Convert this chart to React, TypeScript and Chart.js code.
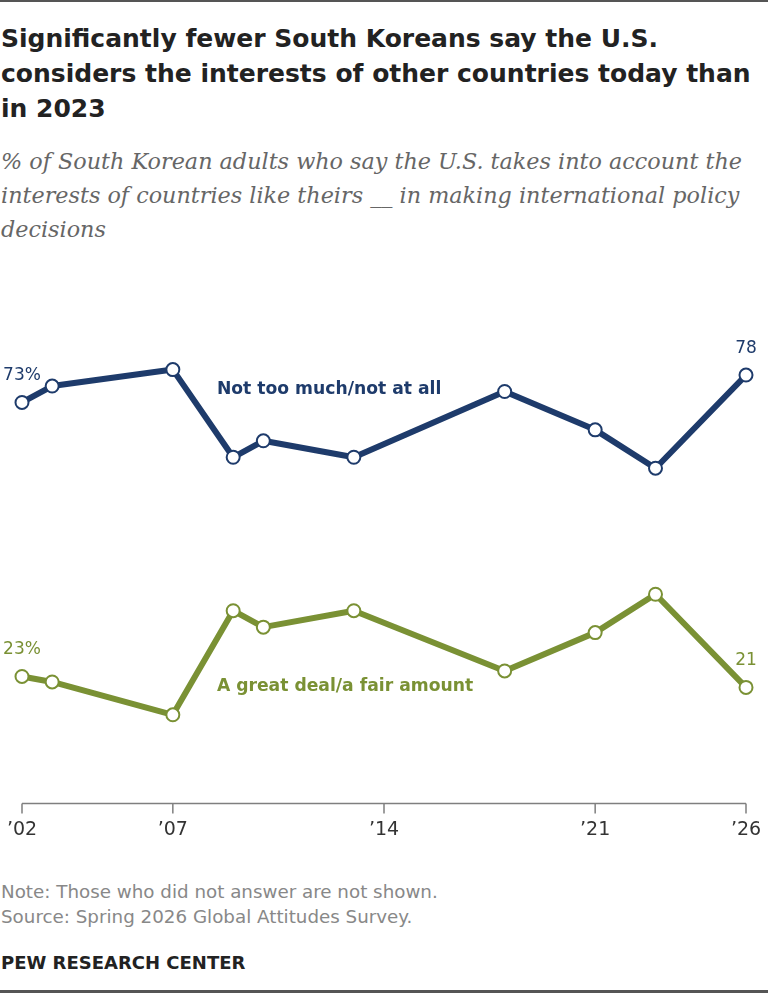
import React, { useEffect, useRef } from "react";
import { Chart, registerables } from "chart.js";

Chart.register(...registerables);

// ---- Data ----
const years = [2002, 2003, 2007, 2009, 2010, 2013, 2018, 2021, 2023, 2026];
const notTooMuch = [73, 76, 79, 63, 66, 63, 75, 68, 61, 78];
const greatDeal = [23, 22, 16, 35, 32, 35, 24, 31, 38, 21];
const tickYears = [2002, 2007, 2014, 2021, 2026];
const tickLabels = ["\u201902", "\u201907", "\u201914", "\u201921", "\u201926"];
const seriesNames = ["Not too much/not at all", "A great deal/a fair amount"];

const NAVY = "#1e3b6b";
const OLIVE = "#7a9134";
const SANS = "'DejaVu Sans', 'Liberation Sans', sans-serif";

const labelPlugin = {
  id: "pewLabels",
  afterDatasetsDraw(chart: any) {
    const { ctx, scales } = chart;
    const x = scales.x;
    const y = scales.y;
    ctx.save();
    // x axis line with downward ticks
    const y0 = Math.round(y.getPixelForValue(0)) + 0.5;
    ctx.strokeStyle = "#7f7f7f";
    ctx.lineWidth = 1.5;
    ctx.beginPath();
    ctx.moveTo(x.getPixelForValue(x.min), y0);
    ctx.lineTo(x.getPixelForValue(x.max), y0);
    tickYears.forEach((t) => {
      const px = x.getPixelForValue(t);
      ctx.moveTo(px, y0);
      ctx.lineTo(px, y0 + 10);
    });
    ctx.stroke();

    // tick labels
    ctx.fillStyle = "#333333";
    ctx.font = `19px ${SANS}`;
    ctx.textAlign = "center";
    ctx.textBaseline = "alphabetic";
    tickYears.forEach((t, i) => {
      ctx.fillText(tickLabels[i], x.getPixelForValue(t), y0 + 31);
    });

    // end value labels
    const series = [notTooMuch, greatDeal];
    const colors = [NAVY, OLIVE];
    ctx.font = `17px ${SANS}`;
    ctx.textAlign = "center";
    series.forEach((vals, si) => {
      ctx.fillStyle = colors[si];
      const first = 0;
      const last = vals.length - 1;
      ctx.fillText(
        `${vals[first]}%`,
        x.getPixelForValue(years[first]),
        y.getPixelForValue(vals[first]) - 22
      );
      ctx.fillText(
        `${vals[last]}`,
        x.getPixelForValue(years[last]),
        y.getPixelForValue(vals[last]) - 22
      );
    });

    // series names
    ctx.font = `bold 17.2px ${SANS}`;
    ctx.textAlign = "left";
    const nameAnchors = [
      { year: 2008.46, value: 74.6 },
      { year: 2008.46, value: 20.3 },
    ];
    nameAnchors.forEach((a, i) => {
      ctx.fillStyle = colors[i];
      ctx.fillText(seriesNames[i], x.getPixelForValue(a.year), y.getPixelForValue(a.value));
    });
    ctx.restore();
  },
};

function ChartBox() {
  const ref = useRef<HTMLCanvasElement | null>(null);
  useEffect(() => {
    if (!ref.current) return;
    const mk = (vals: number[], color: string) => ({
      data: years.map((yr, i) => ({ x: yr, y: vals[i] })),
      borderColor: color,
      borderWidth: 6,
      borderJoinStyle: "round",
      borderCapStyle: "round",
      pointRadius: 6.5,
      pointHoverRadius: 6.5,
      pointBorderWidth: 2,
      pointBackgroundColor: "#ffffff",
      pointBorderColor: color,
      tension: 0,
      clip: false,
    });
    const chart = new Chart(ref.current, {
      type: "line",
      data: {
        datasets: [mk(notTooMuch, NAVY), mk(greatDeal, OLIVE)] as any,
      },
      options: {
        animation: false,
        responsive: true,
        maintainAspectRatio: false,
        layout: { padding: { left: 22, right: 22, top: 24.5, bottom: 57.5 } },
        plugins: { legend: { display: false }, tooltip: { enabled: false } },
        events: [],
        scales: {
          x: { type: "linear", display: false, min: 2002, max: 2026 },
          y: { display: false, min: 0, max: 100 },
        },
      } as any,
      plugins: [labelPlugin],
    });
    return () => chart.destroy();
  }, []);
  return (
    <div style={{ position: "absolute", left: 0, top: 230, width: 768, height: 630 }}>
      <canvas ref={ref} />
    </div>
  );
}

export default function App() {
  return (
    <div
      style={{
        position: "relative",
        width: 768,
        height: 993,
        background: "#fff",
        overflow: "hidden",
      }}
    >
      <style>{`body{margin:0;background:#fff}`}</style>
      <div style={{ position: "absolute", left: 0, top: 0, width: 768, height: 2, background: "#555" }} />
      <div
        style={{
          position: "absolute",
          left: 1,
          top: 20.5,
          fontFamily: SANS,
          fontWeight: 700,
          fontSize: 25,
          lineHeight: "35px",
          color: "#222",
          whiteSpace: "nowrap",
        }}
      >
        Significantly fewer South Koreans say the U.S.
        <br />
        considers the interests of other countries today than
        <br />
        in 2023
      </div>
      <div
        style={{
          position: "absolute",
          left: 1,
          top: 143.5,
          fontFamily: "'DejaVu Serif', 'Liberation Serif', serif",
          fontStyle: "italic",
          fontSize: 22.3,
          lineHeight: "34.2px",
          color: "#666",
          whiteSpace: "nowrap",
        }}
      >
        % of South Korean adults who say the U.S. takes into account the
        <br />
        interests of countries like theirs __ in making international policy
        <br />
        decisions
      </div>
      <ChartBox />
      <div
        style={{
          position: "absolute",
          left: 1,
          top: 879,
          fontFamily: SANS,
          fontSize: 18.3,
          lineHeight: "25px",
          color: "#888",
          whiteSpace: "nowrap",
        }}
      >
        Note: Those who did not answer are not shown.
        <br />
        Source: Spring 2026 Global Attitudes Survey.
      </div>
      <div
        style={{
          position: "absolute",
          left: 1,
          top: 951,
          fontFamily: SANS,
          fontSize: 18,
          fontWeight: 700,
          lineHeight: "24px",
          color: "#222",
          whiteSpace: "nowrap",
        }}
      >
        PEW RESEARCH CENTER
      </div>
      <div style={{ position: "absolute", left: 0, top: 990, width: 768, height: 3, background: "#555" }} />
    </div>
  );
}
